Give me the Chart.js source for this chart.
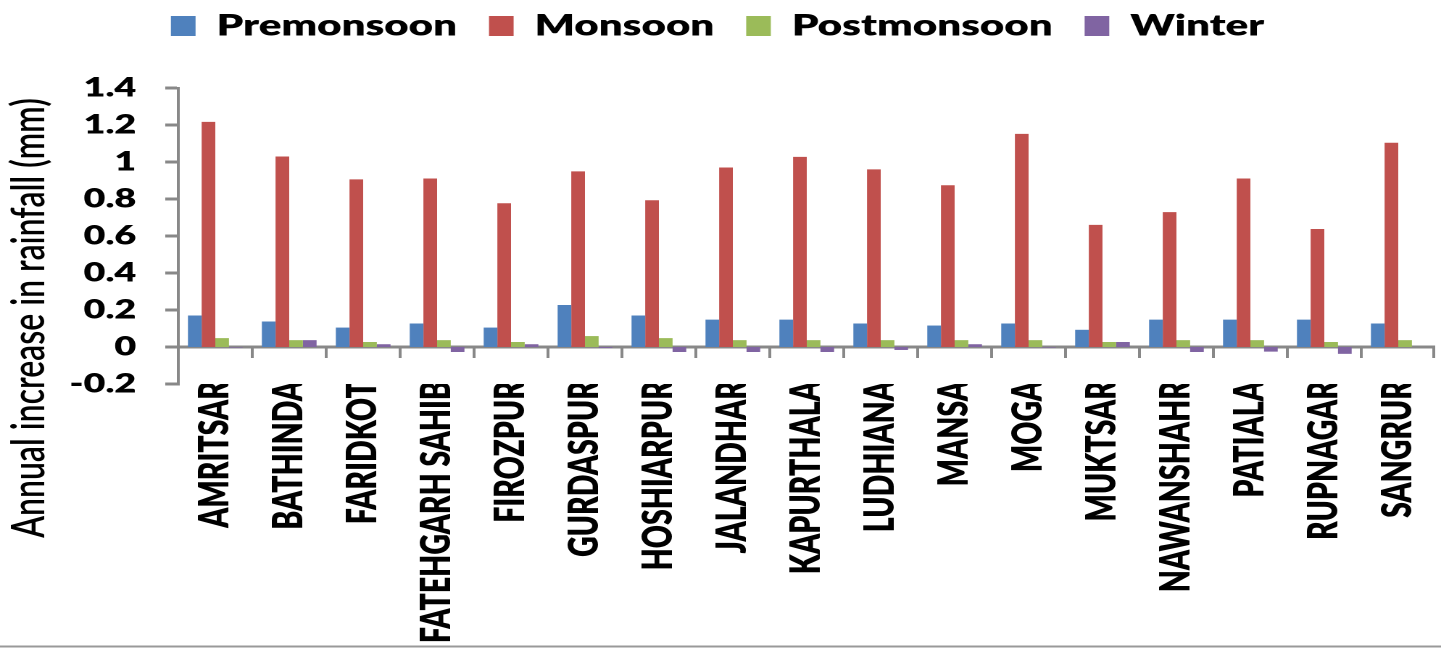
<!DOCTYPE html>
<html>
<head>
<meta charset="utf-8">
<title>Annual increase in rainfall by district</title>
<script src="https://cdn.jsdelivr.net/npm/chart.js@4/dist/chart.umd.min.js"></script>
<style>
  html, body { margin: 0; padding: 0; background: #fff; overflow: hidden; }
  #wrap {
    position: absolute; left: 0; top: 0;
    width: 994px; height: 649px;
    transform: scaleX(1.4497); transform-origin: 0 0;
  }
  #chart { display: block; width: 994px; height: 649px; }
</style>
</head>
<body>
<div id="wrap"><canvas id="chart" width="994" height="649"></canvas></div>
<script>
// District names along the category axis
const districts = ['AMRITSAR', 'BATHINDA', 'FARIDKOT', 'FATEHGARH SAHIB', 'FIROZPUR', 'GURDASPUR',
  'HOSHIARPUR', 'JALANDHAR', 'KAPURTHALA', 'LUDHIANA', 'MANSA', 'MOGA', 'MUKTSAR',
  'NAWANSHAHR', 'PATIALA', 'RUPNAGAR', 'SANGRUR'];

// Annual increase in rainfall (mm) per season
const premonsoon  = [0.17, 0.138, 0.105, 0.127, 0.105, 0.227, 0.17, 0.148, 0.148, 0.127, 0.116, 0.127, 0.093, 0.148, 0.148, 0.148, 0.127];
const monsoon     = [1.217, 1.03, 0.906, 0.911, 0.777, 0.949, 0.793, 0.97, 1.028, 0.96, 0.874, 1.152, 0.66, 0.729, 0.911, 0.638, 1.104];
const postmonsoon = [0.048, 0.037, 0.027, 0.037, 0.027, 0.059, 0.048, 0.037, 0.037, 0.037, 0.037, 0.037, 0.027, 0.037, 0.037, 0.027, 0.037];
const winter      = [-0.003, 0.037, 0.015, -0.027, 0.015, -0.005, -0.027, -0.027, -0.027, -0.016, 0.015, -0.003, 0.027, -0.027, -0.025, -0.037, 0];

const seriesNames = ['Premonsoon', 'Monsoon', 'Postmonsoon', 'Winter'];
const seriesColors = ['#4F81BD', '#C0504D', '#9BBB59', '#8064A2'];

// Value axis range
const yMin = -0.2;
const yMax = 1.4;
const yStep = 0.2;
const yTitle = 'Annual increase in rainfall (mm)';

const AXIS_GREY = '#888888';

// Legend sits in a fixed-height band above the plot
const legendBand = {
  id: 'legendBand',
  beforeInit(chart) {
    const legend = chart.legend;
    if (!legend) return;
    const fit = legend.fit;
    legend.fit = function () {
      fit.call(this);
      this.height = 88;
    };
    const draw = legend.draw;
    legend.draw = function () {
      const ctx = this.ctx;
      ctx.save();
      ctx.translate(0, -10.5);
      draw.call(this);
      ctx.restore();
    };
  }
};

// Category dividers hanging from the zero line, y-axis title and bottom rule
const axisExtras = {
  id: 'axisExtras',
  afterDraw(chart) {
    const ctx = chart.ctx;
    const x = chart.scales.x;
    const y = chart.scales.y;
    const y0 = y.getPixelForValue(0);
    const n = x.ticks.length;
    ctx.save();
    ctx.strokeStyle = AXIS_GREY;
    ctx.lineWidth = 2;
    for (let i = 0; i <= n; i++) {
      const px = i === 0 ? x.left : (i === n ? x.right - 1 : (x.getPixelForTick(i - 1) + x.getPixelForTick(i)) / 2);
      ctx.beginPath();
      ctx.moveTo(px, y0);
      ctx.lineTo(px, y0 + 11);
      ctx.stroke();
    }
    // rule along the bottom edge
    ctx.strokeStyle = '#999999';
    ctx.lineWidth = 2;
    ctx.beginPath();
    ctx.moveTo(0, chart.height - 2.5);
    ctx.lineTo(chart.width, chart.height - 2.5);
    ctx.stroke();
    // y-axis title
    ctx.fillStyle = '#000';
    ctx.font = '600 32px Lato';
    ctx.textAlign = 'center';
    ctx.textBaseline = 'middle';
    ctx.translate(20, 318);
    ctx.rotate(-Math.PI / 2);
    ctx.fillText(yTitle, 0, 0);
    ctx.restore();
  }
};

const seriesValues = [premonsoon, monsoon, postmonsoon, winter];

new Chart(document.getElementById('chart'), {
  type: 'bar',
  data: {
    labels: districts,
    datasets: seriesNames.map((name, i) => ({
      label: name,
      data: seriesValues[i],
      backgroundColor: seriesColors[i],
      borderWidth: 0,
      categoryPercentage: 0.74,
      barPercentage: 1.0
    }))
  },
  options: {
    responsive: false,
    devicePixelRatio: 2,
    animation: false,
    layout: { padding: { left: 0, right: 4, top: 0, bottom: 0 } },
    plugins: {
      tooltip: { enabled: false },
      legend: {
        position: 'top',
        align: 'center',
        labels: {
          boxWidth: 17,
          boxHeight: 20,
          padding: 22,
          color: '#000',
          font: { family: 'Lato', weight: '800', size: 29 }
        }
      }
    },
    scales: {
      x: {
        grid: { display: false, drawTicks: false },
        border: { display: false },
        ticks: {
          autoSkip: false,
          maxRotation: 90,
          minRotation: 90,
          padding: -3,
          color: '#000',
          font: { family: 'Lato', weight: '800', size: 28.5 }
        },
        afterFit(scale) {
          scale.height = 265;
          scale.paddingLeft = 0;
          scale.paddingRight = 0;
        }
      },
      y: {
        min: yMin,
        max: yMax,
        border: { display: true, color: AXIS_GREY, width: 2 },
        grid: {
          drawOnChartArea: true,
          color: (c) => (c.tick && Math.abs(c.tick.value) < 1e-9 ? AXIS_GREY : 'rgba(0,0,0,0)'),
          lineWidth: 3,
          tickColor: AXIS_GREY,
          tickWidth: 3,
          tickLength: 9
        },
        ticks: {
          stepSize: yStep,
          padding: 20,
          color: '#000',
          font: { family: 'Lato', weight: '800', size: 26 },
          callback: (v) => String(+Number(v).toFixed(1))
        },
        afterFit(scale) { scale.width = 123; }
      }
    }
  },
  plugins: [legendBand, axisExtras]
});
</script>
</body>
</html>
